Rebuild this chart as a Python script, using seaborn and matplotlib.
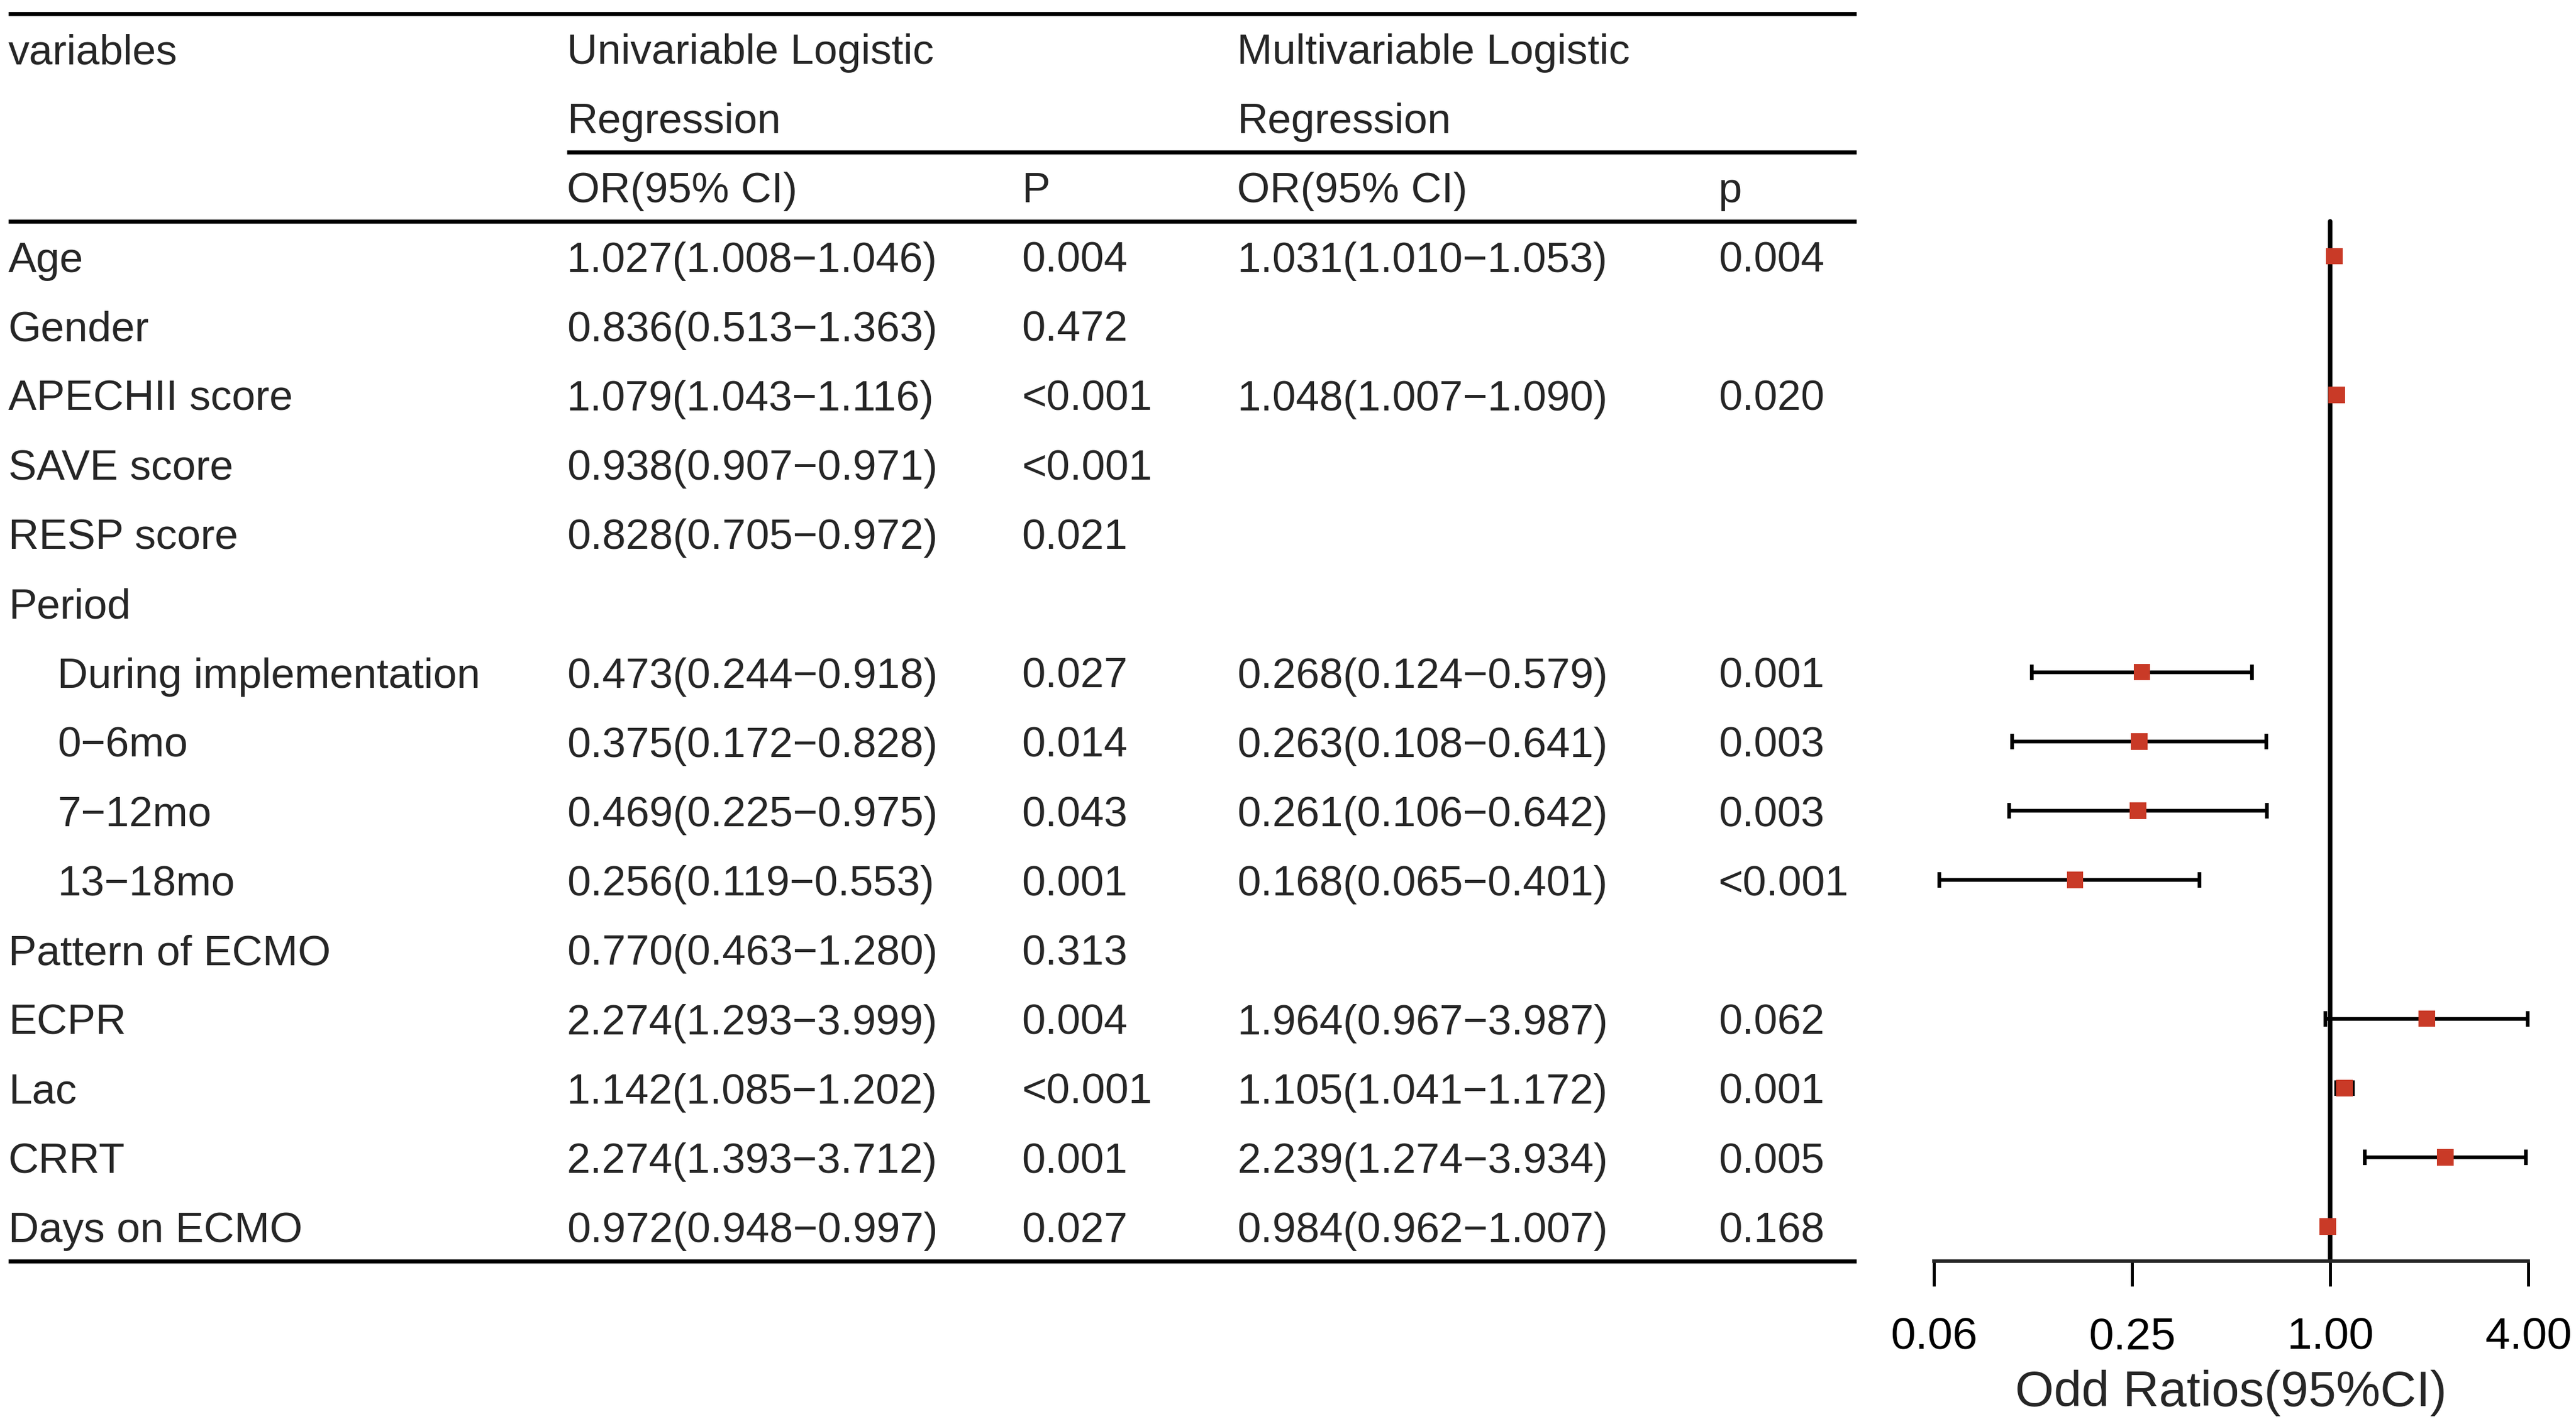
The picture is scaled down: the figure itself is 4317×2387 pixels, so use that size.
import numpy as np
import pandas as pd
import matplotlib
matplotlib.use('Agg')
import matplotlib.pyplot as plt
import seaborn as sns

sns.set_style('white')
plt.rcParams['font.family'] = ['Liberation Sans', 'DejaVu Sans']

# table rows
variables = ['Age', 'Gender', 'APECHII score', 'SAVE score', 'RESP score', 'Period',
             'During implementation', '0\u22126mo', '7\u221212mo', '13\u221218mo',
             'Pattern of ECMO', 'ECPR', 'Lac', 'CRRT', 'Days on ECMO']
indented = [False, False, False, False, False, False, True, True, True, True,
            False, False, False, False, False]

uni_or = [1.027, 0.836, 1.079, 0.938, 0.828, np.nan, 0.473, 0.375, 0.469, 0.256,
          0.770, 2.274, 1.142, 2.274, 0.972]
uni_lo = [1.008, 0.513, 1.043, 0.907, 0.705, np.nan, 0.244, 0.172, 0.225, 0.119,
          0.463, 1.293, 1.085, 1.393, 0.948]
uni_hi = [1.046, 1.363, 1.116, 0.971, 0.972, np.nan, 0.918, 0.828, 0.975, 0.553,
          1.280, 3.999, 1.202, 3.712, 0.997]
uni_p = ['0.004', '0.472', '<0.001', '<0.001', '0.021', '', '0.027', '0.014', '0.043',
         '0.001', '0.313', '0.004', '<0.001', '0.001', '0.027']

multi_or = [1.031, np.nan, 1.048, np.nan, np.nan, np.nan, 0.268, 0.263, 0.261, 0.168,
            np.nan, 1.964, 1.105, 2.239, 0.984]
multi_lo = [1.010, np.nan, 1.007, np.nan, np.nan, np.nan, 0.124, 0.108, 0.106, 0.065,
            np.nan, 0.967, 1.041, 1.274, 0.962]
multi_hi = [1.053, np.nan, 1.090, np.nan, np.nan, np.nan, 0.579, 0.641, 0.642, 0.401,
            np.nan, 3.987, 1.172, 3.934, 1.007]
multi_p = ['0.004', '', '0.020', '', '', '', '0.001', '0.003', '0.003', '<0.001',
           '', '0.062', '0.001', '0.005', '0.168']

ticks = [0.0625, 0.25, 1.0, 4.0]
tick_labels = ['0.06', '0.25', '1.00', '4.00']

def fmt(o, l, h):
    if np.isnan(o):
        return ''
    return '{:.3f}({:.3f}\u2212{:.3f})'.format(o, l, h)

W, H = 1568.0, 867.0          # layout units (reference display px)
row0, step = 156.0, 42.2
ylim = ((H - row0) / step, -row0 / step)
fs = 17
dy = 0.07                     # nudge text down a little
red = '#C93A27'

fig = plt.figure(figsize=(4317 / 300, 2387 / 300), dpi=300)

# table part
tab = fig.add_axes([0, 0, 1, 1])
tab.set_xlim(0, W)
tab.set_ylim(*ylim)
tab.axis('off')

col_var, col_uor, col_up, col_mor, col_mp = 5, 345, 622, 753, 1046
hdr = [(col_var, -3, 'variables'), (col_uor, -3, 'Univariable Logistic'),
       (col_uor, -2, 'Regression'), (col_mor, -3, 'Multivariable Logistic'),
       (col_mor, -2, 'Regression'), (col_uor, -1, 'OR(95% CI)'), (col_up, -1, 'P'),
       (col_mor, -1, 'OR(95% CI)'), (col_mp, -1, 'p')]
for x, y, s in hdr:
    tab.text(x, y + dy, s, fontsize=fs, va='center', ha='left')

for i, v in enumerate(variables):
    y = i + dy
    tab.text(col_var + (30 if indented[i] else 0), y, v, fontsize=fs, va='center')
    tab.text(col_uor, y, fmt(uni_or[i], uni_lo[i], uni_hi[i]), fontsize=fs, va='center')
    tab.text(col_up, y, uni_p[i], fontsize=fs, va='center')
    tab.text(col_mor, y, fmt(multi_or[i], multi_lo[i], multi_hi[i]), fontsize=fs, va='center')
    tab.text(col_mp, y, multi_p[i], fontsize=fs, va='center')

n = len(variables)
lw = 1.6
tab.hlines([-3.5, -0.5, n - 0.5], col_var, 1130, color='black', lw=lw)
tab.hlines(-1.5, col_uor, 1130, color='black', lw=lw)

# forest part (log2 scale, 0.0625..4 mapped onto 1177..1539)
px_per = (1539 - 1177) / 6.0
lo_e, hi_e = -4.2, 2.2
x0 = 1177 + (lo_e + 4) * px_per
x1 = 1177 + (hi_e + 4) * px_per
ax = fig.add_axes([x0 / W, 0, (x1 - x0) / W, 1])
ax.set_xscale('log', base=2)
ax.set_xlim(2 ** lo_e, 2 ** hi_e)
ax.set_ylim(*ylim)
ax.patch.set_alpha(0)

df = pd.DataFrame({'row': np.arange(n), 'OR': multi_or, 'lo': multi_lo, 'hi': multi_hi}).dropna()

ax.plot([1, 1], [-0.5, n - 0.5], color='black', lw=1.8, zorder=1)
ax.errorbar(df['OR'], df['row'], xerr=[df['OR'] - df['lo'], df['hi'] - df['OR']],
            fmt='none', ecolor='black', elinewidth=1.5, capsize=3.2, capthick=1.5, zorder=2)
sns.scatterplot(data=df, x='OR', y='row', marker='s', color=red, s=44,
                edgecolor='none', ax=ax, zorder=3, legend=False)
ax.set_ylim(*ylim)

for sp in ['left', 'top', 'right']:
    ax.spines[sp].set_visible(False)
ax.spines['bottom'].set_position(('data', n - 0.5))
ax.spines['bottom'].set_bounds(ticks[0], ticks[-1])
ax.spines['bottom'].set_linewidth(1.4)
ax.set_yticks([])
ax.set_xticks(ticks)
ax.set_xticklabels(tick_labels)
ax.minorticks_off()
ax.tick_params(axis='x', direction='out', length=10, width=1.2, pad=12.5, labelsize=18,
               bottom=True, colors='black')
ax.set_xlabel('Odd Ratios(95%CI)', fontsize=20)
ax.xaxis.label.set_va('center')
ax.xaxis.set_label_coords(0.5, 1 - 848 / H)
ax.set_ylabel('')

fig.savefig('out.png', dpi=300)
